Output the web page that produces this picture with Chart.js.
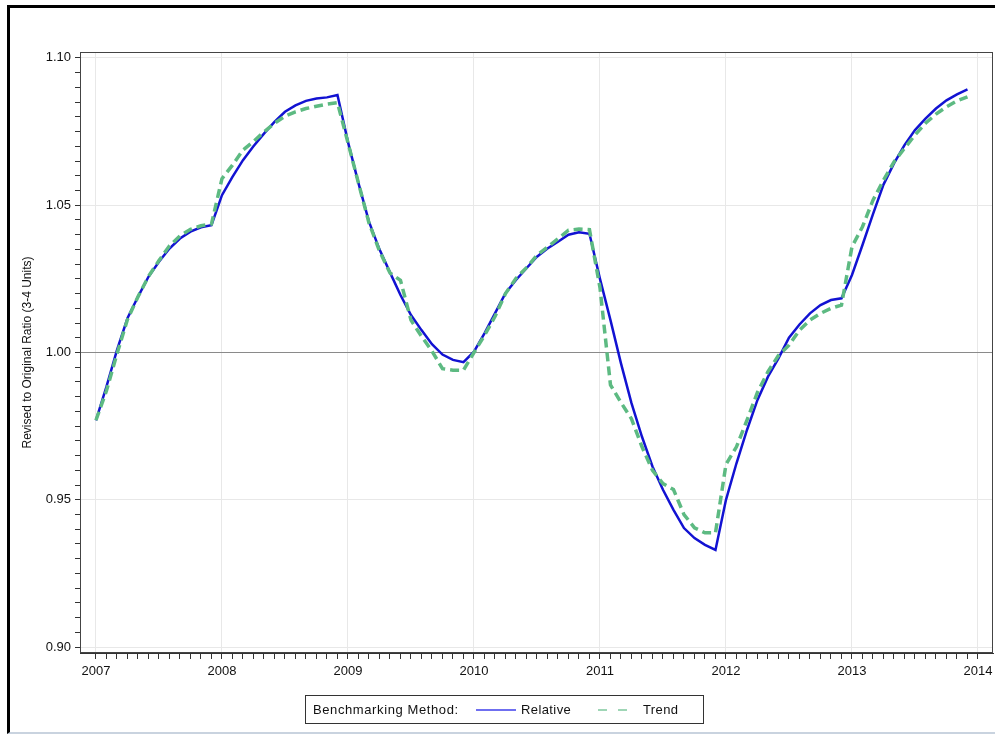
<!DOCTYPE html>
<html lang="en">
<head>
    <meta charset="UTF-8">
    <title>Revised to Original Ratio</title>
    <script src="https://cdn.jsdelivr.net/npm/chart.js"></script>
    <style>
        body { margin: 0; background: #fff; font-family: "Liberation Sans", Arial, sans-serif; }
        .page { position: relative; width: 995px; height: 734px; overflow: hidden; }
        #chartBox { position: absolute; left: 0; top: 0; width: 995px; height: 734px; }
        .frame {
            position: absolute; left: 7px; top: 5px; width: 1000px; height: 724px;
            border-left: 3px solid #000; border-top: 3px solid #000; border-bottom: 2px solid #c9d3df;
            pointer-events: none;
        }
        .legend {
            position: absolute; left: 305px; top: 695px; width: 397px; height: 27px;
            border: 1px solid #333; font-size: 13px; color: #111;
        }
        .legend span, .legend svg { position: absolute; top: 0; line-height: 27px; }
        .legend svg { top: 12px; }
    </style>
</head>
<body>
    <div class="page">
        <div id="chartBox"><canvas id="ratioChart"></canvas></div>
        <div class="legend">
            <span style="left:7px; letter-spacing:0.6px;">Benchmarking Method:</span>
            <svg style="left:170px" width="40" height="4"><line x1="0" y1="2" x2="40" y2="2" stroke="#6f6ff0" stroke-width="2"/></svg>
            <span style="left:215px; letter-spacing:0.4px;">Relative</span>
            <svg style="left:292px" width="30" height="4"><line x1="0" y1="2" x2="30" y2="2" stroke="#9fd6b6" stroke-width="2" stroke-dasharray="9,11"/></svg>
            <span style="left:337px; letter-spacing:0.4px;">Trend</span>
        </div>
        <div class="frame"></div>
    </div>

    <script>
        const startYear = 2007;
        const yearTicks = [2007, 2008, 2009, 2010, 2011, 2012, 2013, 2014];
        const yMajorTicks = [0.90, 0.95, 1.00, 1.05, 1.10];

        // monthly values, Jan 2007 .. Dec 2013
        const relative = [
            0.9770, 0.9884, 1.0008, 1.0116, 1.0189, 1.0257, 1.0308, 1.0353, 1.0387, 1.0410, 1.0425, 1.0432,
            1.0534, 1.0596, 1.0653, 1.0700, 1.0743, 1.0783, 1.0817, 1.0839, 1.0854, 1.0862, 1.0866, 1.0874,
            1.0715, 1.0575, 1.0444, 1.0350, 1.0272, 1.0195, 1.0127, 1.0076, 1.0028, 0.9993, 0.9975, 0.9967,
            1.0003, 1.0065, 1.0133, 1.0201, 1.0246, 1.0286, 1.0325, 1.0353, 1.0376, 1.0400, 1.0408, 1.0403,
            1.0250, 1.0110, 0.9963, 0.9828, 0.9714, 0.9613, 0.9534, 0.9466, 0.9404, 0.9370, 0.9347, 0.9330,
            0.9500, 0.9624, 0.9737, 0.9839, 0.9918, 0.9980, 1.0050, 1.0095, 1.0133, 1.0161, 1.0178, 1.0184,
            1.0263, 1.0365, 1.0470, 1.0570, 1.0642, 1.0704, 1.0755, 1.0794, 1.0828, 1.0856, 1.0876, 1.0893
        ];
        const trend = [
            0.9770, 0.9870, 0.9995, 1.0112, 1.0189, 1.0258, 1.0312, 1.0362, 1.0396, 1.0418, 1.0430, 1.0436,
            1.0590, 1.0636, 1.0687, 1.0716, 1.0749, 1.0778, 1.0802, 1.0817, 1.0828, 1.0836, 1.0843, 1.0848,
            1.0712, 1.0575, 1.0440, 1.0345, 1.0270, 1.0245, 1.0110, 1.0055, 1.0005, 0.9945, 0.9940, 0.9940,
            1.0000, 1.0058, 1.0122, 1.0200, 1.0252, 1.0288, 1.0330, 1.0358, 1.0386, 1.0415, 1.0419, 1.0417,
            1.0220, 0.9890, 0.9830, 0.9775, 0.9680, 0.9600, 0.9555, 0.9535, 0.9450, 0.9405, 0.9388, 0.9388,
            0.9620, 0.9680, 0.9770, 0.9865, 0.9935, 0.9990, 1.0025, 1.0076, 1.0110, 1.0133, 1.0150, 1.0161,
            1.0359, 1.0427, 1.0517, 1.0585, 1.0647, 1.0693, 1.0738, 1.0778, 1.0809, 1.0834, 1.0854, 1.0868
        ];

        const lastMonth = (yearTicks[yearTicks.length - 1] - startYear) * 12;
        const font = { family: "'Liberation Sans', Arial, sans-serif", size: 13 };

        function toPoints(values) {
            return values.map((v, i) => ({ x: i, y: v }));
        }

        function isMajorY(v) {
            return yMajorTicks.some(t => Math.abs(t - v) < 1e-6);
        }

        function yearLabel(v) {
            const y = startYear + v / 12;
            return (v % 12 === 0 && yearTicks.includes(y)) ? String(y) : '';
        }

        const plotFrame = {
            id: 'plotFrame',
            afterDraw(chart) {
                const { ctx, chartArea: a } = chart;
                ctx.save();
                ctx.strokeStyle = '#444';
                ctx.lineWidth = 1;
                ctx.strokeRect(a.left + 0.5, a.top + 0.5, a.right - a.left - 1, a.bottom - a.top - 1);
                ctx.restore();
            }
        };

        const ctx = document.getElementById('ratioChart').getContext('2d');
        new Chart(ctx, {
            type: 'line',
            data: {
                datasets: [
                    {
                        label: 'Relative',
                        data: toPoints(relative),
                        borderColor: '#1212d2',
                        borderWidth: 2.5,
                        pointRadius: 0,
                        tension: 0,
                        order: 1
                    },
                    {
                        label: 'Trend',
                        data: toPoints(trend),
                        borderColor: '#5dba82',
                        borderWidth: 3.5,
                        borderDash: [9, 5],
                        pointRadius: 0,
                        tension: 0,
                        order: 0
                    }
                ]
            },
            options: {
                responsive: true,
                maintainAspectRatio: false,
                animation: false,
                layout: { padding: { left: 0, top: 52, right: 2, bottom: 51 } },
                plugins: {
                    legend: { display: false },
                    tooltip: { enabled: false }
                },
                scales: {
                    x: {
                        type: 'linear',
                        min: -1.52,
                        max: lastMonth + 1.43,
                        border: { color: '#333', width: 1 },
                        grid: {
                            color: c => (c.tick && yearLabel(c.tick.value) !== '') ? '#e8e8e8' : 'rgba(0,0,0,0)',
                            tickColor: c => (c.tick && c.tick.value >= 0 && c.tick.value <= lastMonth) ? '#333' : 'rgba(0,0,0,0)',
                            tickLength: 6
                        },
                        ticks: {
                            stepSize: 1,
                            autoSkip: false,
                            includeBounds: false,
                            maxRotation: 0,
                            padding: 5,
                            color: '#111',
                            font: font,
                            callback: v => yearLabel(v)
                        },
                        afterFit: s => { s.height = 30; }
                    },
                    y: {
                        min: 0.898,
                        max: 1.102,
                        border: { color: '#333', width: 1 },
                        grid: {
                            color: c => {
                                if (!c.tick || !isMajorY(c.tick.value)) return 'rgba(0,0,0,0)';
                                return Math.abs(c.tick.value - 1) < 1e-6 ? '#8a8a8a' : '#e8e8e8';
                            },
                            tickColor: '#333',
                            tickLength: 5
                        },
                        ticks: {
                            stepSize: 0.005,
                            autoSkip: false,
                            includeBounds: false,
                            padding: 4,
                            color: '#111',
                            font: font,
                            callback: v => isMajorY(v) ? v.toFixed(2) : ''
                        },
                        title: {
                            display: true,
                            text: 'Revised to Original Ratio (3-4 Units)',
                            color: '#111',
                            font: { family: font.family, size: 12 },
                            padding: { top: 20, bottom: 0 }
                        },
                        afterFit: s => { s.width = 80; }
                    }
                }
            },
            plugins: [plotFrame]
        });
    </script>
</body>
</html>
